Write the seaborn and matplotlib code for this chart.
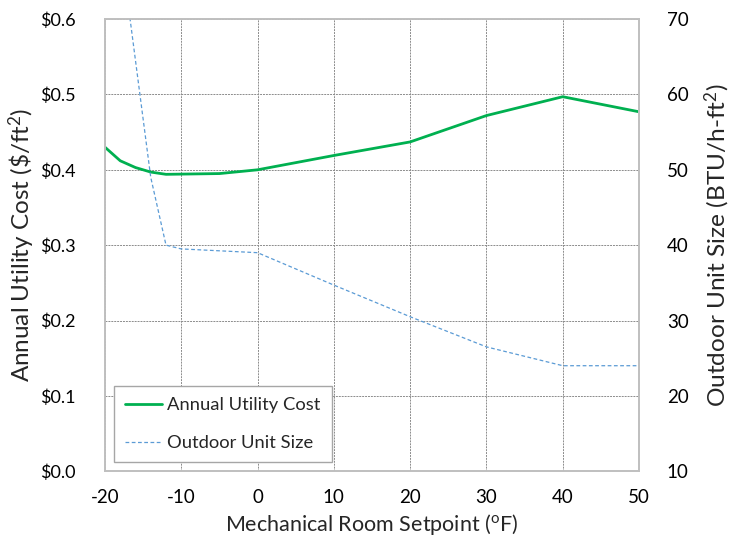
import numpy as np
import pandas as pd
import matplotlib
matplotlib.use("Agg")
import matplotlib.pyplot as plt
from matplotlib.ticker import FuncFormatter, MultipleLocator
import seaborn as sns

# values
setpoint_cost = [-20, -18, -16, -14, -12, -5, 0, 10, 20, 30, 40, 50]
annual_cost = [0.430, 0.412, 0.403, 0.397, 0.394, 0.395, 0.400, 0.419, 0.437, 0.472, 0.497, 0.477]

setpoint_unit = [-18, -16, -14, -12, -10, 0, 10, 20, 30, 40, 50]
unit_size = [80.0, 64.5, 49.0, 40.0, 39.5, 39.0, 34.7, 30.5, 26.5, 24.0, 24.0]

cost_df = pd.DataFrame({"setpoint": setpoint_cost, "cost": annual_cost})
unit_df = pd.DataFrame({"setpoint": setpoint_unit, "size": unit_size})

sns.set_theme(style="white")
plt.rcParams["font.family"] = ["Lato", "DejaVu Sans"]
plt.rcParams["mathtext.default"] = "regular"
plt.rcParams["axes.unicode_minus"] = False

fig, ax = plt.subplots(figsize=(7.32, 5.46), dpi=100)
fig.subplots_adjust(left=0.1434, right=0.873, top=0.965, bottom=0.137)
ax2 = ax.twinx()

sns.lineplot(data=cost_df, x="setpoint", y="cost", ax=ax, color="#00B050",
             linewidth=2.0, label="Annual Utility Cost", legend=False)
sns.lineplot(data=unit_df, x="setpoint", y="size", ax=ax2, color="#5B9BD5",
             linewidth=0.9, dashes=False, label="Outdoor Unit Size", legend=False)
ax2.lines[0].set_linestyle((0, (3, 2)))

ax.set_xlim(-20, 50)
ax.set_ylim(0, 0.6)
ax2.set_ylim(10, 70)
ax.xaxis.set_major_locator(MultipleLocator(10))
ax.yaxis.set_major_locator(MultipleLocator(0.1))
ax2.yaxis.set_major_locator(MultipleLocator(10))
ax.yaxis.set_major_formatter(FuncFormatter(lambda v, p: "\\$%.1f" % v))

ax.grid(True, color="#8C8C8C", linestyle=(0, (2, 1)), linewidth=0.7)
ax.set_axisbelow(True)
for a in (ax, ax2):
    for s in a.spines.values():
        s.set_color("#BFBFBF")
        s.set_linewidth(1.2)
    a.tick_params(length=0, labelsize=13.5, colors="black")
ax.tick_params(axis="y", pad=21, labelsize=13)
ax.tick_params(axis="x", pad=13)
ax2.tick_params(axis="y", pad=20)

ax.set_xlabel("Mechanical Room Setpoint ($^{o}$F)", fontsize=15.5, labelpad=4)
ax.set_ylabel("Annual Utility Cost (\\$/ft$^{2}$)", fontsize=17.5, labelpad=2)
ax2.set_ylabel("Outdoor Unit Size (BTU/h-ft$^{2}$)", fontsize=17.6, labelpad=10)

h1, l1 = ax.get_legend_handles_labels()
h2, l2 = ax2.get_legend_handles_labels()
leg = ax2.legend(h1 + h2, l1 + l2, loc="lower left", bbox_to_anchor=(0.0, 0.0),
                 fontsize=13.2, frameon=True, fancybox=False, framealpha=1,
                 edgecolor="#A6A6A6", handlelength=2.0, handletextpad=0.3,
                 labelspacing=1.2, borderpad=0.6)
leg.get_frame().set_linewidth(1.0)

fig.savefig("out.png", dpi=100)
